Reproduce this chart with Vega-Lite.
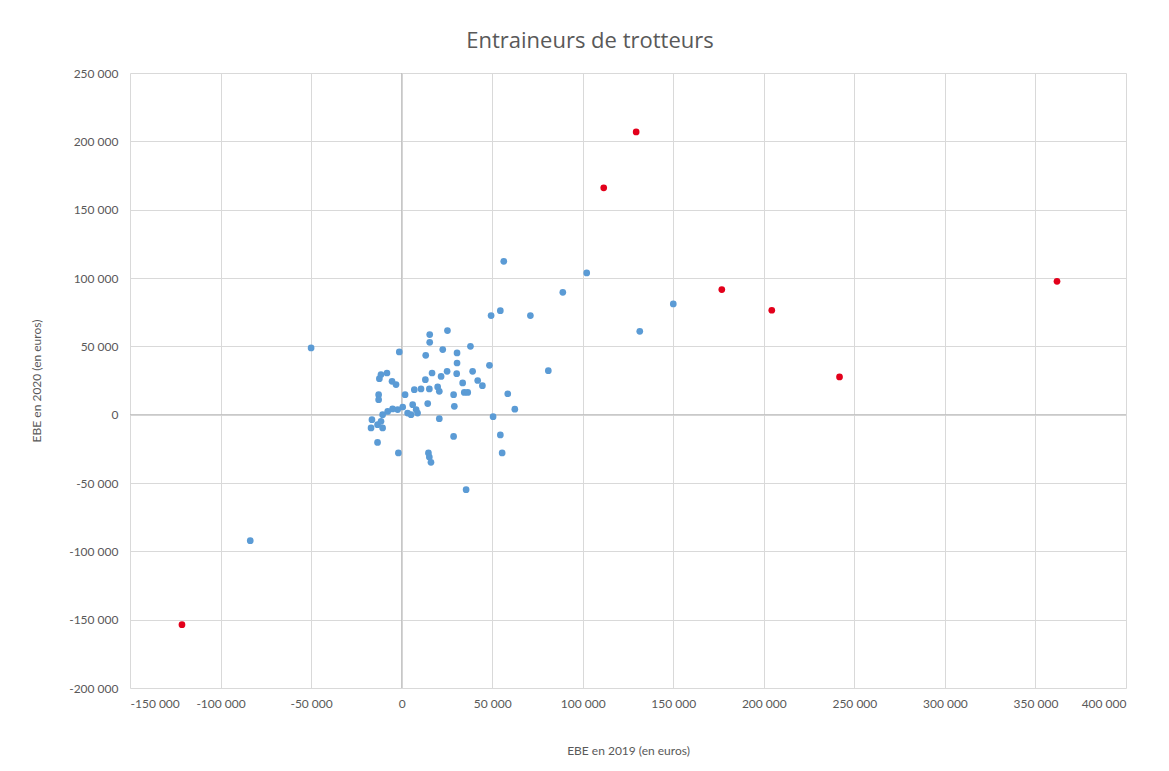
{
  "$schema": "https://vega.github.io/schema/vega-lite/v6.json",
  "width": 996,
  "height": 615,
  "autosize": "none",
  "padding": {"left": 130, "top": 73, "right": 43, "bottom": 83},
  "background": "white",
  "config": {
    "view": {"stroke": null},
    "font": "Lato"
  },
  "title": {"text": "Entraineurs de trotteurs", "fontSize": 22, "fontWeight": "normal", "color": "#595959", "anchor": "middle", "dx": -38, "offset": 14, "font": "Open Sans"},
  "layer": [
    {
      "data": {"values": [{}]},
      "mark": {"type": "rule", "color": "#bfbfbf", "strokeWidth": 1},
      "encoding": {"x": {"datum": 0, "type": "quantitative"}}
    },
    {
      "data": {"values": [{}]},
      "mark": {"type": "rule", "color": "#bfbfbf", "strokeWidth": 1},
      "encoding": {"y": {"datum": 0, "type": "quantitative"}}
    },
    {
      "data": {"values": [
        {"ebe2019": -83600, "ebe2020": -92200, "g": "b"},
        {"ebe2019": -50000, "ebe2020": 48800, "g": "b"},
        {"ebe2019": 56400, "ebe2020": 112200, "g": "b"},
        {"ebe2019": 102200, "ebe2020": 103700, "g": "b"},
        {"ebe2019": 89000, "ebe2020": 89500, "g": "b"},
        {"ebe2019": 54500, "ebe2020": 76100, "g": "b"},
        {"ebe2019": 49400, "ebe2020": 72500, "g": "b"},
        {"ebe2019": 71100, "ebe2020": 72500, "g": "b"},
        {"ebe2019": 38000, "ebe2020": 50000, "g": "b"},
        {"ebe2019": 48500, "ebe2020": 36100, "g": "b"},
        {"ebe2019": 81000, "ebe2020": 32200, "g": "b"},
        {"ebe2019": 39200, "ebe2020": 31700, "g": "b"},
        {"ebe2019": 42000, "ebe2020": 25000, "g": "b"},
        {"ebe2019": 44600, "ebe2020": 21200, "g": "b"},
        {"ebe2019": 58600, "ebe2020": 15300, "g": "b"},
        {"ebe2019": 34600, "ebe2020": 16300, "g": "b"},
        {"ebe2019": 36500, "ebe2020": 16300, "g": "b"},
        {"ebe2019": 33700, "ebe2020": 23200, "g": "b"},
        {"ebe2019": 62500, "ebe2020": 4000, "g": "b"},
        {"ebe2019": 50500, "ebe2020": -1500, "g": "b"},
        {"ebe2019": 54500, "ebe2020": -14800, "g": "b"},
        {"ebe2019": 55500, "ebe2020": -28000, "g": "b"},
        {"ebe2019": 150000, "ebe2020": 81000, "g": "b"},
        {"ebe2019": 131500, "ebe2020": 61000, "g": "b"},
        {"ebe2019": 15500, "ebe2020": 58600, "g": "b"},
        {"ebe2019": 15500, "ebe2020": 52900, "g": "b"},
        {"ebe2019": 25300, "ebe2020": 61500, "g": "b"},
        {"ebe2019": -1300, "ebe2020": 45900, "g": "b"},
        {"ebe2019": 13300, "ebe2020": 43400, "g": "b"},
        {"ebe2019": 22700, "ebe2020": 47600, "g": "b"},
        {"ebe2019": 30600, "ebe2020": 45200, "g": "b"},
        {"ebe2019": 30600, "ebe2020": 37800, "g": "b"},
        {"ebe2019": -8100, "ebe2020": 30500, "g": "b"},
        {"ebe2019": -12300, "ebe2020": 26300, "g": "b"},
        {"ebe2019": -5300, "ebe2020": 24400, "g": "b"},
        {"ebe2019": -3100, "ebe2020": 22000, "g": "b"},
        {"ebe2019": 16800, "ebe2020": 30500, "g": "b"},
        {"ebe2019": 13100, "ebe2020": 25600, "g": "b"},
        {"ebe2019": 25100, "ebe2020": 31700, "g": "b"},
        {"ebe2019": 30400, "ebe2020": 30000, "g": "b"},
        {"ebe2019": 21800, "ebe2020": 28000, "g": "b"},
        {"ebe2019": 19900, "ebe2020": 20300, "g": "b"},
        {"ebe2019": 15300, "ebe2020": 18800, "g": "b"},
        {"ebe2019": 10700, "ebe2020": 18800, "g": "b"},
        {"ebe2019": 7000, "ebe2020": 18300, "g": "b"},
        {"ebe2019": 20800, "ebe2020": 17100, "g": "b"},
        {"ebe2019": 28700, "ebe2020": 14600, "g": "b"},
        {"ebe2019": -12700, "ebe2020": 14600, "g": "b"},
        {"ebe2019": -12700, "ebe2020": 11000, "g": "b"},
        {"ebe2019": 1900, "ebe2020": 14600, "g": "b"},
        {"ebe2019": 14400, "ebe2020": 8100, "g": "b"},
        {"ebe2019": 29100, "ebe2020": 6100, "g": "b"},
        {"ebe2019": 600, "ebe2020": 5600, "g": "b"},
        {"ebe2019": -2200, "ebe2020": 3700, "g": "b"},
        {"ebe2019": -5000, "ebe2020": 4200, "g": "b"},
        {"ebe2019": -7700, "ebe2020": 2400, "g": "b"},
        {"ebe2019": -10500, "ebe2020": 0, "g": "b"},
        {"ebe2019": 6100, "ebe2020": 7300, "g": "b"},
        {"ebe2019": 8000, "ebe2020": 3700, "g": "b"},
        {"ebe2019": 8800, "ebe2020": 1200, "g": "b"},
        {"ebe2019": 5200, "ebe2020": 0, "g": "b"},
        {"ebe2019": 3300, "ebe2020": 1200, "g": "b"},
        {"ebe2019": 20800, "ebe2020": -2900, "g": "b"},
        {"ebe2019": -16400, "ebe2020": -3700, "g": "b"},
        {"ebe2019": -16900, "ebe2020": -9700, "g": "b"},
        {"ebe2019": -13300, "ebe2020": -7300, "g": "b"},
        {"ebe2019": -10500, "ebe2020": -9700, "g": "b"},
        {"ebe2019": -11400, "ebe2020": -4900, "g": "b"},
        {"ebe2019": -13300, "ebe2020": -20300, "g": "b"},
        {"ebe2019": 28700, "ebe2020": -15900, "g": "b"},
        {"ebe2019": -1800, "ebe2020": -28000, "g": "b"},
        {"ebe2019": 14800, "ebe2020": -28000, "g": "b"},
        {"ebe2019": 15300, "ebe2020": -31000, "g": "b"},
        {"ebe2019": 16200, "ebe2020": -34900, "g": "b"},
        {"ebe2019": 35600, "ebe2020": -54900, "g": "b"},
        {"ebe2019": -11400, "ebe2020": 29300, "g": "b"},
        {"ebe2019": -121300, "ebe2020": -153700, "g": "r"},
        {"ebe2019": 111600, "ebe2020": 166000, "g": "r"},
        {"ebe2019": 129500, "ebe2020": 206900, "g": "r"},
        {"ebe2019": 176800, "ebe2020": 91500, "g": "r"},
        {"ebe2019": 204400, "ebe2020": 76400, "g": "r"},
        {"ebe2019": 241800, "ebe2020": 27600, "g": "r"},
        {"ebe2019": 361900, "ebe2020": 97600, "g": "r"}
      ]},
      "mark": {"type": "point", "shape": "circle", "filled": true, "opacity": 1, "size": 45},
      "encoding": {
        "x": {
          "field": "ebe2019", "type": "quantitative",
          "scale": {"domain": [-150000, 400000], "nice": false, "zero": false},
          "axis": {
            "title": "EBE en 2019 (en euros)",
            "values": [-150000, -100000, -50000, 0, 50000, 100000, 150000, 200000, 250000, 300000, 350000, 400000],
            "labelExpr": "replace(replace(format(datum.value, ','), ',', ' '), '\u2212', '-')",
            "grid": true, "gridColor": "#d9d9d9", "domain": false, "ticks": false,
            "labelColor": "#595959", "labelFontSize": 12, "labelPadding": 10,
            "titleColor": "#595959", "titleFontSize": 12, "titleFontWeight": "normal", "titlePadding": 36
          }
        },
        "y": {
          "field": "ebe2020", "type": "quantitative",
          "scale": {"domain": [-200000, 250000], "nice": false, "zero": false},
          "axis": {
            "title": "EBE en 2020 (en euros)",
            "values": [-200000, -150000, -100000, -50000, 0, 50000, 100000, 150000, 200000, 250000],
            "labelExpr": "replace(replace(format(datum.value, ','), ',', ' '), '\u2212', '-')",
            "grid": true, "gridColor": "#d9d9d9", "domain": false, "ticks": false,
            "labelColor": "#595959", "labelFontSize": 12, "labelPadding": 12,
            "titleColor": "#595959", "titleFontSize": 12, "titleFontWeight": "normal", "titlePadding": 25
          }
        },
        "color": {
          "field": "g", "type": "nominal",
          "scale": {"domain": ["b", "r"], "range": ["#5b9bd5", "#e3001b"]},
          "legend": null
        }
      }
    }
  ]
}
